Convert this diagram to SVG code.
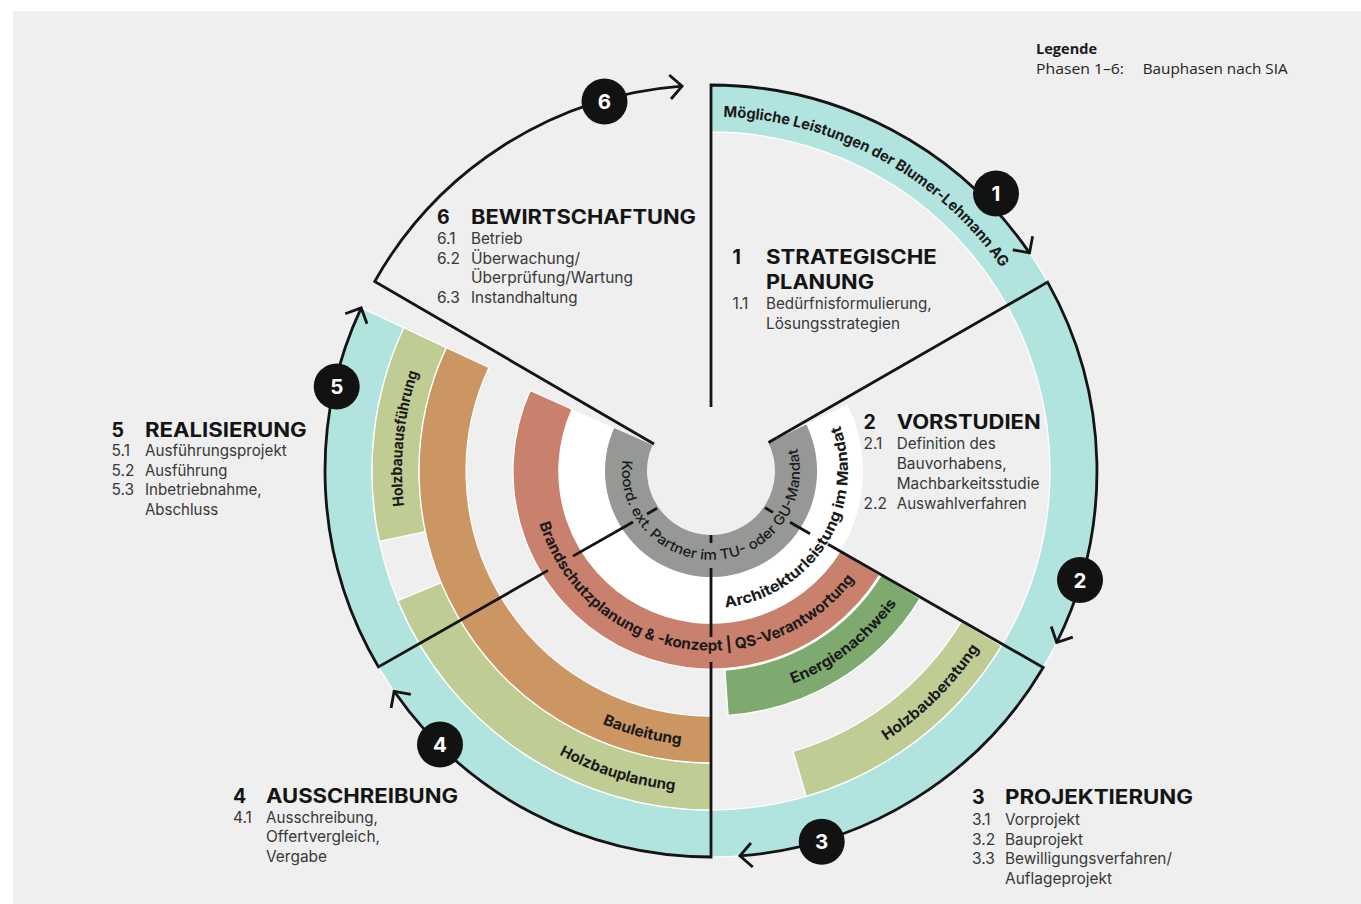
<svg xmlns="http://www.w3.org/2000/svg" width="1361" height="904" viewBox="0 0 1361 904">
<defs>
<style>
.bg{fill:#eeefee}
.band{stroke:#ffffff;stroke-width:1.3}
.teal{fill:#b1e3df}.gray{fill:#969896}.white{fill:#ffffff}.salmon{fill:#c9806d}
.dkgreen{fill:#7eaa6f}.orange{fill:#cb9661}.lgreen{fill:#bfcc94}
.ln{fill:none;stroke:#141414;stroke-width:2.8;stroke-linejoin:miter}
.arc{fill:none;stroke:#141414;stroke-width:2.8;stroke-linejoin:miter;marker-end:url(#arr)}
.dot{fill:#121212}
.num{font-family:Inter,"Liberation Sans",sans-serif;font-weight:700;font-size:20.5px;fill:#ffffff;text-anchor:middle}
.h{font-family:Inter,"Liberation Sans",sans-serif;font-weight:700;font-size:19.5px;fill:#141414}
.s{font-family:Inter,"Liberation Sans",sans-serif;font-weight:400;font-size:15.5px;fill:#383838}
.c{font-family:Inter,"Liberation Sans",sans-serif;font-weight:700;font-size:15px;fill:#1a1a1a}
.cg{font-family:Inter,"Liberation Sans",sans-serif;font-weight:500;font-size:14px;fill:#1a1a1a}
.lg{font-family:"Open Sans","Liberation Sans",sans-serif;font-size:15px;fill:#222222}
.lgb{font-family:"Open Sans","Liberation Sans",sans-serif;font-size:14px;font-weight:700;fill:#1a1a1a}
</style>
<marker id="arr" markerUnits="userSpaceOnUse" viewBox="-16 -16 32 32" markerWidth="32" markerHeight="32" refX="0" refY="0" orient="auto">
<path d="M -12 -12 L 0 0 L -12 12" fill="none" stroke="#141414" stroke-width="2.8" stroke-linejoin="miter"/>
</marker>
<path id="tp-teal" d="M 711 116.5 A 354.5 354.5 0 0 1 1018 293.75"/>
<path id="tp-gray" d="M 625 448 A 89 89 0 1 0 788.1 426.5"/>
<path id="tp-white" d="M 711 608 A 137 137 0 0 0 829.6 402.5"/>
<path id="tp-salmon" d="M 534.2 502.2 A 179.5 179.5 0 0 0 873.7 546.9"/>
<path id="tp-dkgreen" d="M 750.6 695.5 A 228 228 0 0 0 917.6 567.4"/>
<path id="tp-hbb" d="M 821 773.1 A 321.5 321.5 0 0 0 1002.4 606.9"/>
<path id="tp-hbp" d="M 526.6 734.4 A 321.5 321.5 0 0 0 739 791.3"/>
<path id="tp-bl" d="M 553.3 696.3 A 275 275 0 0 0 735 745"/>
<path id="tp-hba" d="M 412.5 551 A 309 309 0 0 1 443.4 316.5"/>
</defs>

<rect class="bg" x="13" y="11" width="1348" height="893"/>

<g id="bands">
<path id="band-teal" class="band teal" d="M 711 85 A 386 386 0 1 1 361.2 307.9 L 403.8 327.7 A 339 339 0 1 0 711 132 Z"/>
<path id="band-holzbauplanung" class="band lgreen" d="M 711 810 A 339 339 0 0 1 397.8 600.7 L 441.2 582.7 A 292 292 0 0 0 711 763 Z"/>
<path id="band-holzbauausfuehrung" class="band lgreen" d="M 379.4 541.5 A 339 339 0 0 1 403.8 327.7 L 446.4 347.6 A 292 292 0 0 0 425.4 531.7 Z"/>
<path id="band-holzbauberatung" class="band lgreen" d="M 1001.6 645.6 A 339 339 0 0 1 806.2 796.4 L 793 751.3 A 292 292 0 0 0 961.3 621.4 Z"/>
<path id="band-bauleitung" class="band orange" d="M 711 763 A 292 292 0 0 1 446.4 347.6 L 489 367.5 A 245 245 0 0 0 711 716 Z"/>
<path id="band-energie" class="band dkgreen" d="M 920.1 598.6 A 245 245 0 0 1 728.1 715.4 L 724.9 670 A 199.5 199.5 0 0 0 881.3 574.9 Z"/>
<path id="band-brandschutz" class="band salmon" d="M 879.5 575 A 198 198 0 0 1 530.1 390.5 L 572.1 409.2 A 152 152 0 0 0 840.3 550.9 Z"/>
<path id="band-architektur" class="white" d="M 847.6 404.4 A 152 152 0 1 1 572.1 409.2 L 614.2 427.9 A 106 106 0 1 0 806.3 424.5 Z"/>
<path id="band-koord" class="gray" d="M 806.3 424.5 A 106 106 0 1 1 614.2 427.9 L 652.5 445 A 64 64 0 1 0 768.5 442.9 Z"/>
</g>

<g id="band-labels">
<text class="c"><textPath href="#tp-teal" startOffset="12.4" textLength="328" lengthAdjust="spacingAndGlyphs">Mögliche Leistungen der Blumer-Lehmann AG</textPath></text>
<text class="cg"><textPath href="#tp-gray" startOffset="12.4" textLength="313" lengthAdjust="spacingAndGlyphs">Koord. ext. Partner im TU- oder GU-Mandat</textPath></text>
<text class="c"><textPath href="#tp-white" startOffset="14.3" textLength="247" lengthAdjust="spacingAndGlyphs">Architekturleistung im Mandat</textPath></text>
<text class="c"><textPath href="#tp-salmon" startOffset="21.9" textLength="394.7" lengthAdjust="spacingAndGlyphs">Brandschutzplanung &amp; -konzept | QS-Verantwortung</textPath></text>
<text class="c"><textPath href="#tp-dkgreen" startOffset="43.8" textLength="133.3" lengthAdjust="spacingAndGlyphs">Energienachweis</textPath></text>
<text class="c"><textPath href="#tp-hbb" startOffset="72.9" textLength="131.9" lengthAdjust="spacingAndGlyphs">Holzbauberatung</textPath></text>
<text class="c"><textPath href="#tp-hbp" startOffset="38.2" textLength="121.8" lengthAdjust="spacingAndGlyphs">Holzbauplanung</textPath></text>
<text class="c"><textPath href="#tp-bl" startOffset="56.2" textLength="81.6" lengthAdjust="spacingAndGlyphs">Bauleitung</textPath></text>
<text class="c"><textPath href="#tp-hba" startOffset="45.8" textLength="135.4" lengthAdjust="spacingAndGlyphs">Holzbauausführung</textPath></text>
</g>

<g id="connectors">
<path class="arc" d="M 711 407 L 711 85 A 386 386 0 0 1 1029.5 252.9"/>
<path class="arc" d="M 768.5 442.5 L 1047.6 282.1 A 386 386 0 0 1 1056.7 642.6"/>
<path class="arc" d="M 828 544.2 L 1043.2 667.5 A 386 386 0 0 1 739.9 855.9"/>
<path class="ln" d="M 765 507.8 L 773 512.4 M 790 522.2 L 810 533.7"/>
<path class="arc" d="M 711 662 L 711 857 A 386 386 0 0 1 394.1 691.3"/>
<path class="ln" d="M 711 535 L 711 543 M 711 568 L 711 637"/>
<path class="arc" d="M 548 570.4 L 378.4 666.9 A 386 386 0 0 1 361.2 307.9"/>
<path class="ln" d="M 573 556.1 L 633 522 M 647 514 L 657 508.3"/>
<path class="arc" d="M 654 444 L 374.7 281.5 A 386 386 0 0 1 682.1 86.1"/>
</g>

<g id="phase-6">
<circle class="dot" cx="604.5" cy="101.5" r="23"/>
<text class="num" x="604.5" y="109">6</text>
<text class="h" x="437" y="224">6</text>
<text class="h" x="471" y="224" textLength="225" lengthAdjust="spacingAndGlyphs">BEWIRTSCHAFTUNG</text>
<text class="s" x="437" y="244">6.1</text>
<text class="s" x="471" y="244" textLength="51.7" lengthAdjust="spacingAndGlyphs">Betrieb</text>
<text class="s" x="437" y="263.5">6.2</text>
<text class="s" x="471" y="263.5" textLength="109" lengthAdjust="spacingAndGlyphs">Überwachung/</text>
<text class="s" x="471" y="283" textLength="162" lengthAdjust="spacingAndGlyphs">Überprüfung/Wartung</text>
<text class="s" x="437" y="302.5">6.3</text>
<text class="s" x="471" y="302.5" textLength="106.6" lengthAdjust="spacingAndGlyphs">Instandhaltung</text>
</g>

<g id="phase-1">
<circle class="dot" cx="996" cy="193.5" r="23"/>
<text class="num" x="996" y="201">1</text>
<text class="h" x="732.5" y="263.5">1</text>
<text class="h" x="766" y="263.5" textLength="170.7" lengthAdjust="spacingAndGlyphs">STRATEGISCHE</text>
<text class="h" x="766" y="288.5" textLength="108" lengthAdjust="spacingAndGlyphs">PLANUNG</text>
<text class="s" x="732.5" y="309.3">1.1</text>
<text class="s" x="766" y="309.3" textLength="165.7" lengthAdjust="spacingAndGlyphs">Bedürfnisformulierung,</text>
<text class="s" x="766" y="328.7" textLength="134" lengthAdjust="spacingAndGlyphs">Lösungsstrategien</text>
</g>

<g id="phase-2">
<circle class="dot" cx="1080" cy="580" r="23"/>
<text class="num" x="1080" y="587.5">2</text>
<text class="h" x="863.5" y="429.3">2</text>
<text class="h" x="896.7" y="429.3" textLength="144" lengthAdjust="spacingAndGlyphs">VORSTUDIEN</text>
<text class="s" x="863.5" y="449.3">2.1</text>
<text class="s" x="896.7" y="449.3" textLength="99" lengthAdjust="spacingAndGlyphs">Definition des</text>
<text class="s" x="896.7" y="469.3">Bauvorhabens,</text>
<text class="s" x="896.7" y="489" textLength="142.7" lengthAdjust="spacingAndGlyphs">Machbarkeitsstudie</text>
<text class="s" x="863.5" y="508.7">2.2</text>
<text class="s" x="896.7" y="508.7" textLength="130" lengthAdjust="spacingAndGlyphs">Auswahlverfahren</text>
</g>

<g id="phase-3">
<circle class="dot" cx="821.7" cy="841.7" r="23"/>
<text class="num" x="821.7" y="849.2">3</text>
<text class="h" x="972" y="803.5">3</text>
<text class="h" x="1005" y="803.5" textLength="188" lengthAdjust="spacingAndGlyphs">PROJEKTIERUNG</text>
<text class="s" x="972" y="824.5">3.1</text>
<text class="s" x="1005" y="824.5" textLength="75" lengthAdjust="spacingAndGlyphs">Vorprojekt</text>
<text class="s" x="972" y="844.5">3.2</text>
<text class="s" x="1005" y="844.5" textLength="78" lengthAdjust="spacingAndGlyphs">Bauprojekt</text>
<text class="s" x="972" y="864">3.3</text>
<text class="s" x="1005" y="864" textLength="167" lengthAdjust="spacingAndGlyphs">Bewilligungsverfahren/</text>
<text class="s" x="1005" y="884" textLength="107" lengthAdjust="spacingAndGlyphs">Auflageprojekt</text>
</g>

<g id="phase-4">
<circle class="dot" cx="440" cy="744.5" r="23"/>
<text class="num" x="440" y="752">4</text>
<text class="h" x="233" y="802.5">4</text>
<text class="h" x="266" y="802.5" textLength="192" lengthAdjust="spacingAndGlyphs">AUSSCHREIBUNG</text>
<text class="s" x="233" y="822.5">4.1</text>
<text class="s" x="266" y="822.5" textLength="112" lengthAdjust="spacingAndGlyphs">Ausschreibung,</text>
<text class="s" x="266" y="842" textLength="114" lengthAdjust="spacingAndGlyphs">Offertvergleich,</text>
<text class="s" x="266" y="861.5" textLength="61" lengthAdjust="spacingAndGlyphs">Vergabe</text>
</g>

<g id="phase-5">
<circle class="dot" cx="336.7" cy="386.5" r="23"/>
<text class="num" x="336.7" y="394">5</text>
<text class="h" x="111.5" y="436.7">5</text>
<text class="h" x="145" y="436.7" textLength="161.7" lengthAdjust="spacingAndGlyphs">REALISIERUNG</text>
<text class="s" x="111.5" y="455.7">5.1</text>
<text class="s" x="145" y="455.7" textLength="141.7" lengthAdjust="spacingAndGlyphs">Ausführungsprojekt</text>
<text class="s" x="111.5" y="475.7">5.2</text>
<text class="s" x="145" y="475.7" textLength="82.3" lengthAdjust="spacingAndGlyphs">Ausführung</text>
<text class="s" x="111.5" y="495.3">5.3</text>
<text class="s" x="145" y="495.3" textLength="116.7" lengthAdjust="spacingAndGlyphs">Inbetriebnahme,</text>
<text class="s" x="145" y="515" textLength="73.3" lengthAdjust="spacingAndGlyphs">Abschluss</text>
</g>

<g id="legend">
<text class="lgb" x="1036" y="54" textLength="61" lengthAdjust="spacingAndGlyphs">Legende</text>
<text class="lg" x="1036" y="74" textLength="88" lengthAdjust="spacingAndGlyphs">Phasen 1–6:</text>
<text class="lg" x="1142.7" y="74" textLength="145" lengthAdjust="spacingAndGlyphs">Bauphasen nach SIA</text>
</g>
</svg>
